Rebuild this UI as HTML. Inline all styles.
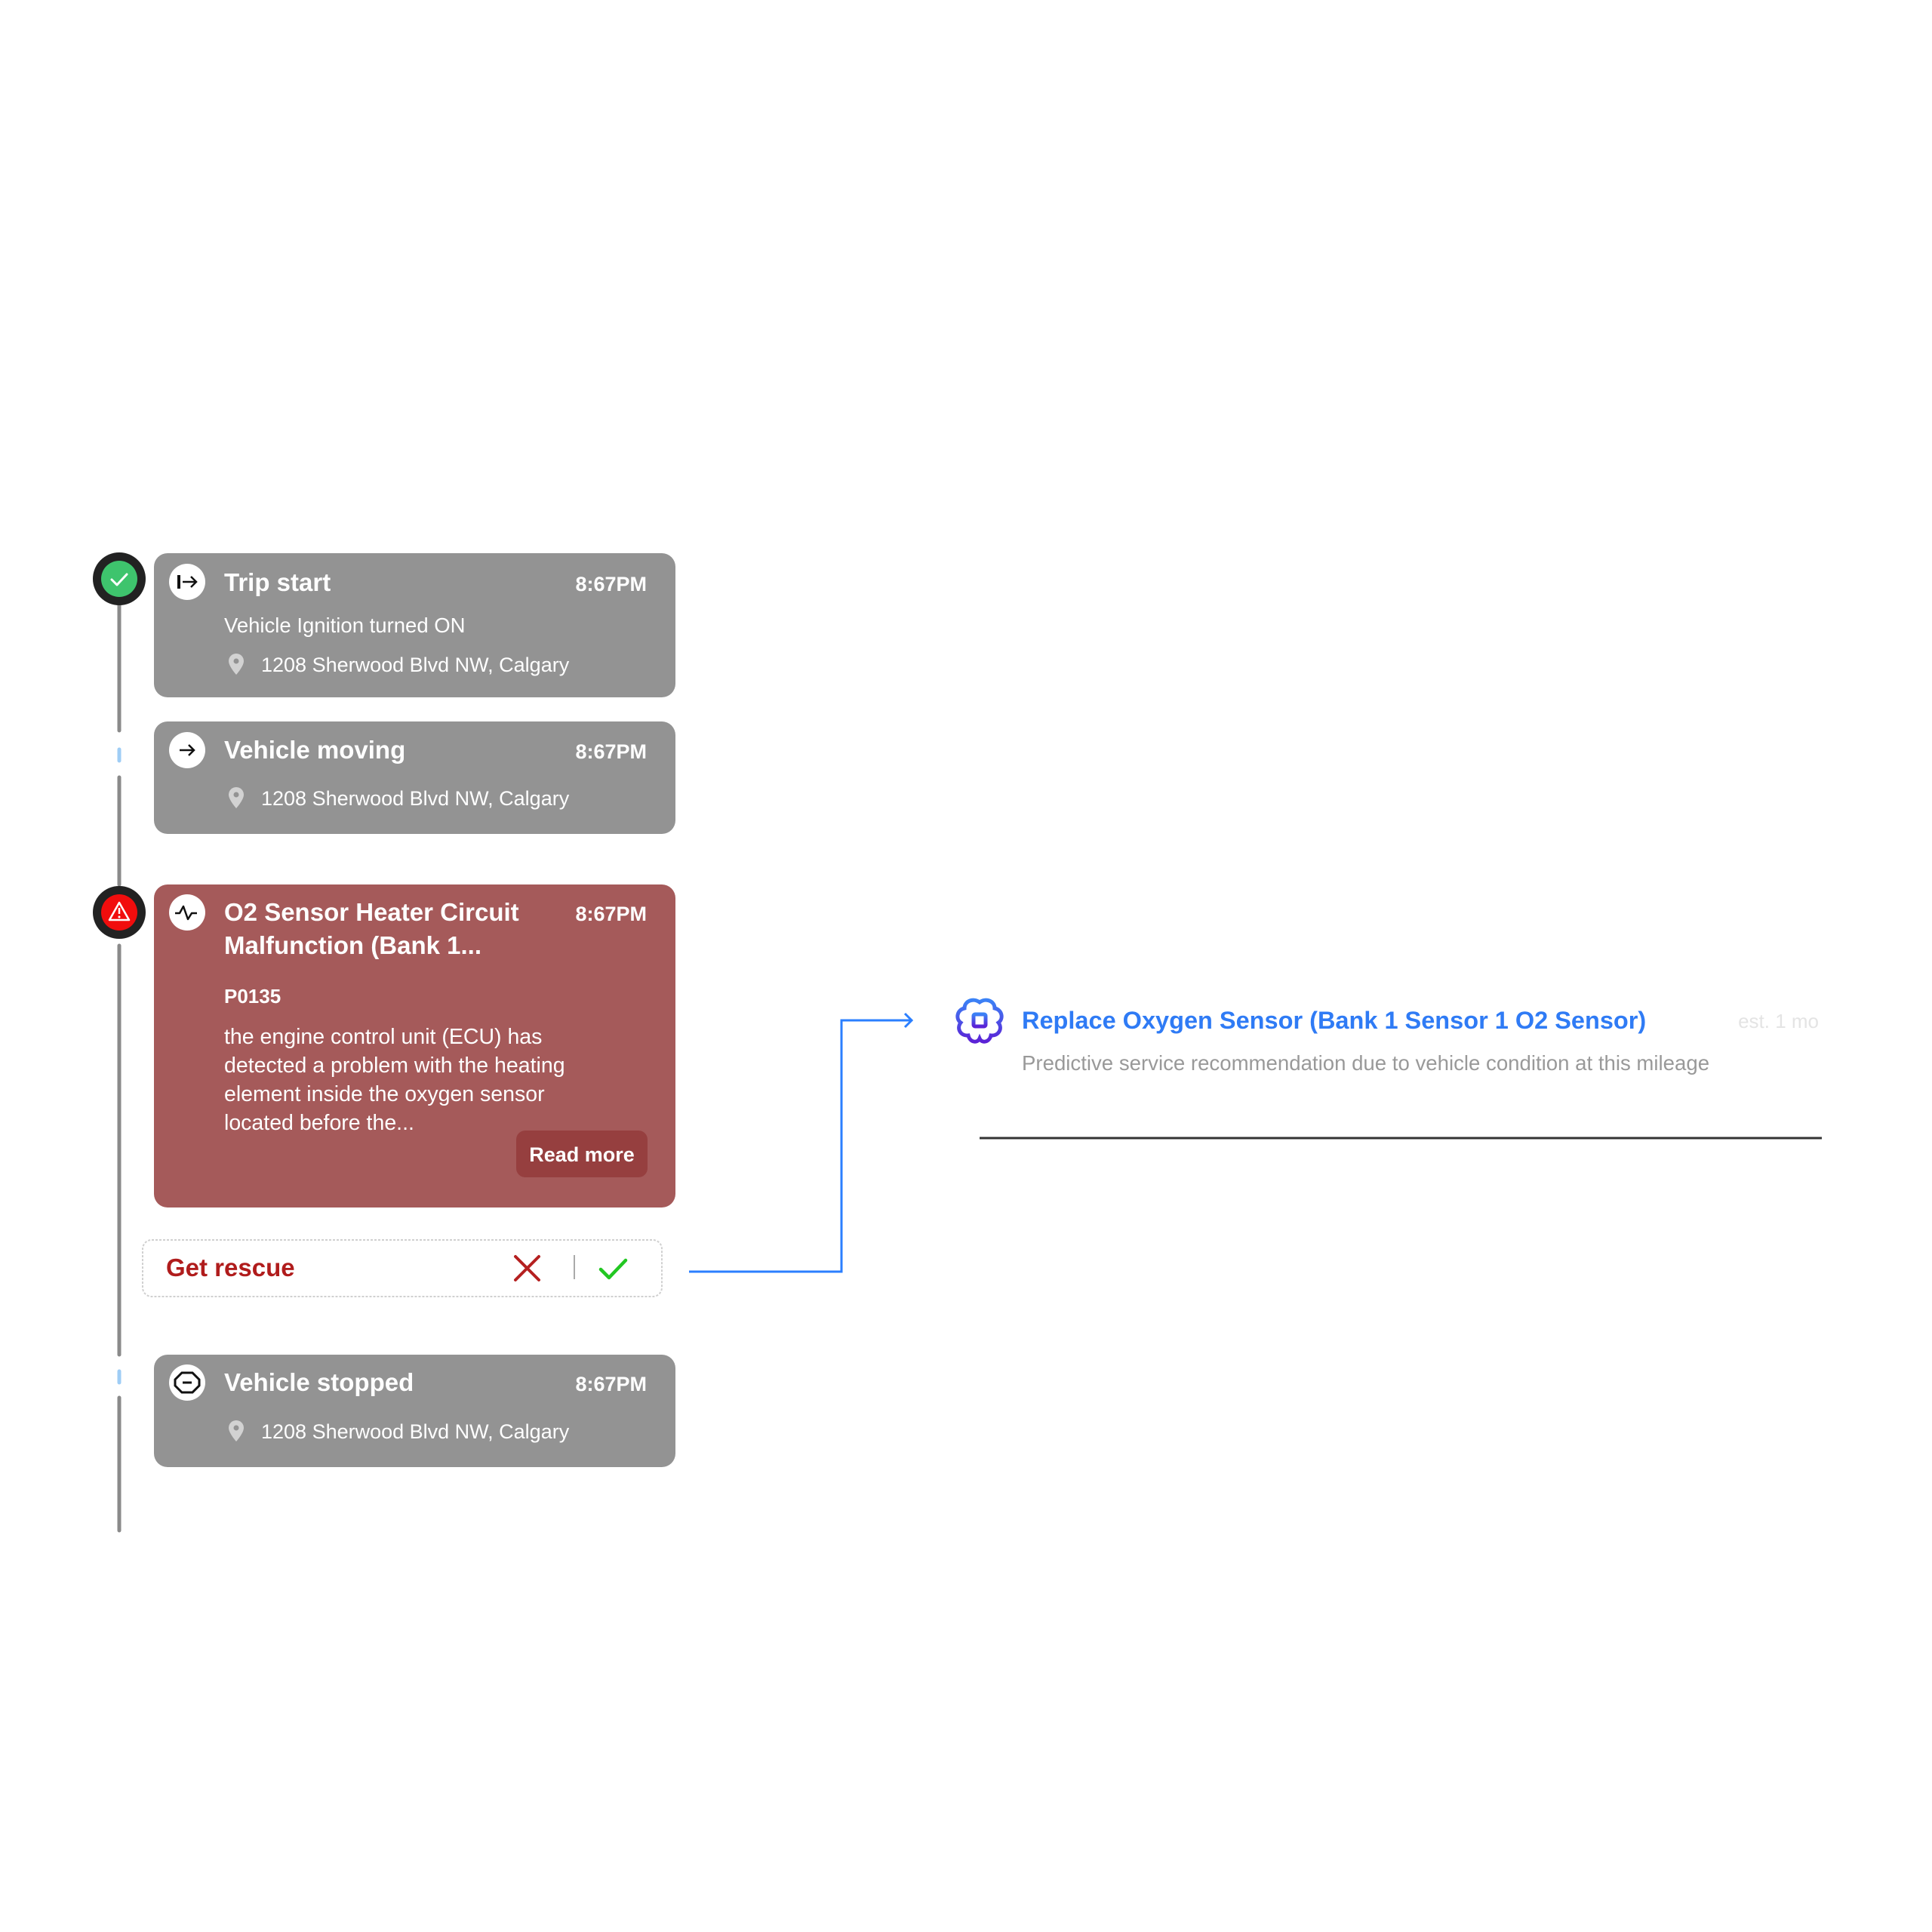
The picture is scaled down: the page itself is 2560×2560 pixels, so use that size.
<!DOCTYPE html>
<html><head><meta charset="utf-8"><style>
html,body{margin:0;padding:0;background:#fff;}
svg{display:block;}
text{font-family:"Liberation Sans",sans-serif;}
</style></head><body>
<svg width="2560" height="2560" viewBox="0 0 2560 2560" xmlns="http://www.w3.org/2000/svg">
<rect width="2560" height="2560" fill="#fff"/>
<g stroke-width="5" stroke-linecap="round">
<line x1="158" y1="790" x2="158" y2="968" stroke="#8a8a8a"/>
<line x1="158" y1="993" x2="158" y2="1008" stroke="#9fcdf5"/>
<line x1="158" y1="1030" x2="158" y2="1172" stroke="#8a8a8a"/>
<line x1="158" y1="1253" x2="158" y2="1795" stroke="#8a8a8a"/>
<line x1="158" y1="1817" x2="158" y2="1832" stroke="#9fcdf5"/>
<line x1="158" y1="1852" x2="158" y2="2028" stroke="#8a8a8a"/>
</g>
<circle cx="158" cy="767" r="35" fill="#222"/>
<circle cx="158" cy="767" r="24" fill="#3ec46d"/>
<path d="M148 768 l7 7 l13 -14" fill="none" stroke="#fff" stroke-width="3" stroke-linecap="round" stroke-linejoin="round"/>
<circle cx="158" cy="1209" r="35" fill="#222"/>
<circle cx="158" cy="1209" r="24" fill="#f10d0d"/>
<path d="M158 1196 L171 1219 L145 1219 Z" fill="none" stroke="#fff" stroke-width="2.5" stroke-linejoin="round"/>
<line x1="158" y1="1203" x2="158" y2="1211" stroke="#fff" stroke-width="2.5"/>
<circle cx="158" cy="1215" r="1.5" fill="#fff"/>

<rect x="204" y="733" width="691" height="191" rx="18" fill="#939393"/>
<circle cx="248" cy="771" r="24" fill="#fff"/>
<line x1="237" y1="762" x2="237" y2="780" stroke="#111" stroke-width="4"/>
<path d="M242 771 h17 M253 764 l7 7 l-7 7" fill="none" stroke="#111" stroke-width="2.5"/>
<text x="297" y="783" font-size="33" font-weight="600" fill="#fff">Trip start</text>
<text x="857" y="783" font-size="27" font-weight="700" fill="#fff" text-anchor="end">8:67PM</text>
<text x="297" y="838" font-size="27.5" fill="#fff">Vehicle Ignition turned ON</text>
<path d="M313 866 a10 10 0 0 1 10 10 c0 7 -10 18 -10 18 c0 0 -10 -11 -10 -18 a10 10 0 0 1 10 -10z" fill="#d2d2d2"/>
<circle cx="313" cy="876" r="3.5" fill="#939393"/>
<text x="346" y="890" font-size="27" fill="#fff">1208 Sherwood Blvd NW, Calgary</text>

<rect x="204" y="956" width="691" height="149" rx="18" fill="#939393"/>
<circle cx="248" cy="994" r="24" fill="#fff"/>
<path d="M238 994 h19 M250 987 l7 7 l-7 7" fill="none" stroke="#111" stroke-width="2.5"/>
<text x="297" y="1005" font-size="33" font-weight="600" fill="#fff">Vehicle moving</text>
<text x="857" y="1005" font-size="27" font-weight="700" fill="#fff" text-anchor="end">8:67PM</text>
<path d="M313 1043 a10 10 0 0 1 10 10 c0 7 -10 18 -10 18 c0 0 -10 -11 -10 -18 a10 10 0 0 1 10 -10z" fill="#d2d2d2"/>
<circle cx="313" cy="1053" r="3.5" fill="#939393"/>
<text x="346" y="1067" font-size="27" fill="#fff">1208 Sherwood Blvd NW, Calgary</text>

<rect x="204" y="1172" width="691" height="428" rx="18" fill="#a55a5a"/>
<circle cx="248" cy="1209" r="24" fill="#fff"/>
<path d="M232 1210 h6 l5 -9 l6 17 l5 -8 h7" fill="none" stroke="#111" stroke-width="2.5" stroke-linejoin="round"/>
<text x="297" y="1220" font-size="33" font-weight="600" fill="#fff">O2 Sensor Heater Circuit</text>
<text x="297" y="1264" font-size="33" font-weight="600" fill="#fff">Malfunction (Bank 1...</text>
<text x="857" y="1220" font-size="27" font-weight="700" fill="#fff" text-anchor="end">8:67PM</text>
<text x="297" y="1329" font-size="26" font-weight="700" fill="#fff">P0135</text>
<text font-size="28.5" fill="#fff">
<tspan x="297" y="1383">the engine control unit (ECU) has</tspan>
<tspan x="297" y="1421">detected a problem with the heating</tspan>
<tspan x="297" y="1459">element inside the oxygen sensor</tspan>
<tspan x="297" y="1497">located before the...</tspan>
</text>
<rect x="684" y="1498" width="174" height="62" rx="12" fill="#963f3f"/>
<text x="771" y="1539" font-size="27" font-weight="600" fill="#fff" text-anchor="middle">Read more</text>

<rect x="189" y="1643" width="688" height="75" rx="12" fill="#fff" stroke="#d0d0d0" stroke-width="2" stroke-dasharray="3 2"/>
<text x="220" y="1691" font-size="33" font-weight="700" fill="#b01c1c">Get rescue</text>
<path d="M683 1665 l31 31 M714 1665 l-31 31" stroke="#b52020" stroke-width="4" stroke-linecap="round"/>
<line x1="761" y1="1663" x2="761" y2="1695" stroke="#aaa" stroke-width="2"/>
<path d="M796 1682 l11 11 l22 -23" fill="none" stroke="#22c722" stroke-width="4.5" stroke-linecap="round" stroke-linejoin="round"/>

<rect x="204" y="1795" width="691" height="149" rx="18" fill="#939393"/>
<circle cx="248" cy="1832" r="24" fill="#fff"/>
<path d="M241 1819 h14 l9 9 v8 l-9 9 h-14 l-9 -9 v-8 z" fill="none" stroke="#111" stroke-width="3"/>
<line x1="242" y1="1832" x2="254" y2="1832" stroke="#111" stroke-width="3"/>
<text x="297" y="1843" font-size="33" font-weight="600" fill="#fff">Vehicle stopped</text>
<text x="857" y="1843" font-size="27" font-weight="700" fill="#fff" text-anchor="end">8:67PM</text>
<path d="M313 1882 a10 10 0 0 1 10 10 c0 7 -10 18 -10 18 c0 0 -10 -11 -10 -18 a10 10 0 0 1 10 -10z" fill="#d2d2d2"/>
<circle cx="313" cy="1892" r="3.5" fill="#939393"/>
<text x="346" y="1906" font-size="27" fill="#fff">1208 Sherwood Blvd NW, Calgary</text>

<path d="M913 1685 H1115 V1352 H1208" fill="none" stroke="#2b7fff" stroke-width="3"/>
<path d="M1199 1343 l9 9 l-9 9" fill="none" stroke="#2b7fff" stroke-width="3"/>

<defs><linearGradient id="bg" x1="0" y1="0" x2="0" y2="1"><stop offset="0" stop-color="#3b82f6"/><stop offset="1" stop-color="#5b21d6"/></linearGradient></defs>
<g fill="none" stroke="url(#bg)" stroke-width="5">
<path d="M1298 1328 c-8 -6 -20 -2 -20 8 c-10 2 -12 14 -5 19 c-6 8 0 18 10 17 c2 9 12 11 15 4 c3 7 13 5 15 -4 c10 1 16 -9 10 -17 c7 -5 5 -17 -5 -19 c0 -10 -12 -14 -20 -8z"/>
<rect x="1290" y="1344" width="16" height="16" rx="2"/>
<line x1="1298" y1="1330" x2="1298" y2="1344"/>
<line x1="1298" y1="1360" x2="1298" y2="1374"/>
</g>
<text x="1354" y="1363" font-size="32.5" font-weight="700" fill="#2f7bf5">Replace Oxygen Sensor (Bank 1 Sensor 1 O2 Sensor)</text>
<text x="2410" y="1362" font-size="26" fill="#e4e4e4" text-anchor="end">est. 1 mo</text>
<text x="1354" y="1418" font-size="27.6" fill="#999">Predictive service recommendation due to vehicle condition at this mileage</text>
<line x1="1298" y1="1508" x2="2414" y2="1508" stroke="#333" stroke-width="3"/>
</svg>
</body></html>
